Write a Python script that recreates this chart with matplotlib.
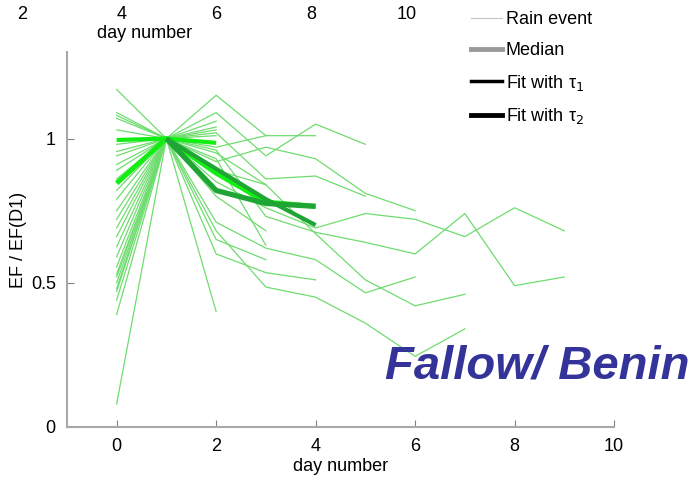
import matplotlib
matplotlib.use('Agg')
import matplotlib.pyplot as plt
from matplotlib.lines import Line2D

# EF normalised by day-1 value, one list per rain event, starting at day 0
events = [
    [1.17, 1.0, 1.15, 1.01, 1.01],
    [1.09, 1.0, 1.09, 0.94, 1.05, 0.98],
    [1.08, 1.0, 1.04],
    [1.07, 1.0, 1.02, 0.86, 0.87, 0.80],
    [1.03, 1.0, 1.06],
    [0.98, 1.0, 0.97, 1.01],
    [0.955, 1.0, 0.95, 0.84],
    [0.94, 1.0, 0.92, 0.97, 0.93, 0.81, 0.75],
    [0.91, 1.0, 1.01],
    [0.89, 1.0, 0.85, 0.76, 0.69, 0.74, 0.72, 0.66, 0.76, 0.68],
    [0.86, 1.0, 0.89, 0.84, 0.67, 0.51, 0.42, 0.46],
    [0.82, 1.0, 0.96, 0.73, 0.675, 0.64, 0.60, 0.74, 0.49, 0.52],
    [0.79, 1.0, 0.71, 0.62, 0.58, 0.465, 0.52],
    [0.75, 1.0, 0.68, 0.485, 0.45, 0.36, 0.245, 0.34],
    [0.72, 1.0, 0.60, 0.535, 0.51],
    [0.69, 1.0, 0.65, 0.58],
    [0.66, 1.0, 0.88],
    [0.625, 1.0, 0.40],
    [0.59, 1.0, 0.80, 0.68],
    [0.555, 1.0, 1.03],
    [0.53, 1.0, 0.93, 0.63],
    [0.52, 1.0],
    [0.50, 1.0],
    [0.48, 1.0],
    [0.47, 1.0],
    [0.44, 1.0],
    [0.39, 1.0],
    [0.08, 1.0],
]

median_days = [0, 1, 2, 3, 4]
median_vals = [0.845, 1.0, 0.88, 0.78, 0.765]
median_flat_days = [0, 1, 2]
median_flat_vals = [0.995, 1.0, 0.985]

fit1_days = [1, 2, 3, 4]
fit1_vals = [1.0, 0.895, 0.79, 0.70]
fit2_days = [1, 2, 3, 4]
fit2_vals = [1.0, 0.82, 0.775, 0.765]

top_ticks = ['2', '4', '6', '8', '10']

plt.rcParams['font.family'] = ['Liberation Sans', 'DejaVu Sans']

fig = plt.figure(figsize=(6.97, 4.79), dpi=100)
ax = fig.add_axes([0.096, 0.1086, 0.785, 0.7828])

for ev in events:
    ax.plot(range(len(ev)), ev, color='#6fdc6f', linewidth=0.9)

ax.plot(median_days, median_vals, color='#11ee11', linewidth=3.5, solid_capstyle='butt')
ax.plot(median_flat_days, median_flat_vals, color='#11ee11', linewidth=3.0, solid_capstyle='butt')
ax.plot(fit1_days, fit1_vals, color='#1ea534', linewidth=3.0, solid_capstyle='butt')
ax.plot(fit2_days, fit2_vals, color='#1ea534', linewidth=3.8, solid_capstyle='butt')

ax.set_xlim(-1, 10)
ax.set_ylim(0, 1.3)
ax.set_xticks([0, 2, 4, 6, 8, 10])
ax.set_yticks([0, 0.5, 1])
ax.set_yticklabels(['0', '0.5', '1'])
for side in ['top', 'right']:
    ax.spines[side].set_visible(False)
for side in ['left', 'bottom']:
    ax.spines[side].set_color('#a8a8a8')
    ax.spines[side].set_linewidth(1.5)
ax.tick_params(direction='in', length=5, color='#808080', labelsize=13, pad=8)
ax.set_xlabel('day number', fontsize=13, labelpad=2)
fig.text(0.026, 0.5, 'EF / EF(D1)', fontsize=13, rotation=90, ha='center', va='center')

# legend drawn in black/gray while the data uses green
handles = [
    Line2D([], [], color='#c8c8c8', linewidth=0.9),
    Line2D([], [], color='#999999', linewidth=3.5),
    Line2D([], [], color='black', linewidth=2.5),
    Line2D([], [], color='black', linewidth=3.5),
]
labels = ['Rain event', 'Median', r'Fit with τ$_1$', r'Fit with τ$_2$']
fig.legend(handles, labels, loc='upper left', bbox_to_anchor=(0.653, 1.01),
           frameon=False, fontsize=13, handlelength=1.7, handletextpad=0.2,
           labelspacing=0.75)

fig.text(0.552, 0.21, 'Fallow/ Benin', fontsize=34, fontweight='bold',
         fontstyle='italic', color='#333399')

# axis of the neighbouring panel above
top_x = [0.032, 0.175, 0.31, 0.446, 0.584]
for x, t in zip(top_x, top_ticks):
    fig.text(x, 0.97, t, fontsize=13, ha='center', va='center')
fig.text(0.208, 0.93, 'day number', fontsize=13, ha='center', va='center')

fig.savefig('out.png', dpi=100)
